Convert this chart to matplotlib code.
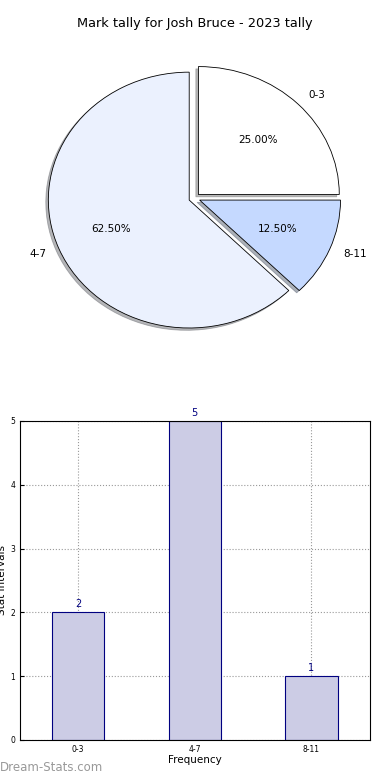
import matplotlib
matplotlib.use("Agg")
import matplotlib.pyplot as plt

categories = ["0-3", "4-7", "8-11"]
counts = [2, 5, 1]
pie_colors = ["#FFFFFF", "#EBF1FE", "#C5D9FF"]
title = "Mark tally for Josh Bruce - 2023 tally"

fig = plt.figure(figsize=(3.9, 7.8), dpi=100)

# Pie
ax1 = fig.add_axes([0.047, 0.541, 0.903, 0.41])
wedges, texts, autotexts = ax1.pie(counts, labels=categories, colors=pie_colors,
                                   explode=[0.04] * len(counts), startangle=0,
                                   autopct="%1.2f%%",
                                   shadow=dict(ox=-0.013, oy=-0.013, shade=0.55),
                                   wedgeprops=dict(edgecolor="black", linewidth=0.6),
                                   textprops=dict(fontsize=7.5))
ax1.set_aspect("auto")
ax1.set_xlim(-1.25, 1.25)
ax1.set_ylim(-1.25, 1.25)
ax1.set_title(title, fontsize=9.3, pad=8)

# Bars
ax2 = fig.add_axes([0.051, 0.0513, 0.897, 0.409])
x = list(range(len(categories)))
bars = ax2.bar(x, counts, width=0.45, color="#CCCCE5", edgecolor="#000080", linewidth=0.8, zorder=2)
for xi, c in zip(x, counts):
    ax2.text(xi, c + 0.05, str(c), ha="center", va="bottom", color="#000080", fontsize=7)
ax2.set_xlim(-0.5, 2.5)
ax2.set_ylim(0, 5)
ax2.set_xticks(x)
ax2.set_xticklabels(categories, fontsize=5.5)
ax2.set_yticks(range(0, 6))
ax2.tick_params(axis="y", labelsize=5.5, length=3, direction="in")
ax2.tick_params(axis="x", length=3, direction="in")
ax2.grid(True, linestyle=":", color="#999999", linewidth=0.8, zorder=0)
ax2.set_axisbelow(True)
ax2.set_xlabel("Frequency", fontsize=7.5, labelpad=1)
ax2.set_ylabel("Stat Intervals", fontsize=7.5, labelpad=2)

fig.text(0.0, 0.008, "Dream-Stats.com", fontsize=8.5, color="#999999",
         ha="left", va="bottom")

fig.savefig("out.png", dpi=100)
